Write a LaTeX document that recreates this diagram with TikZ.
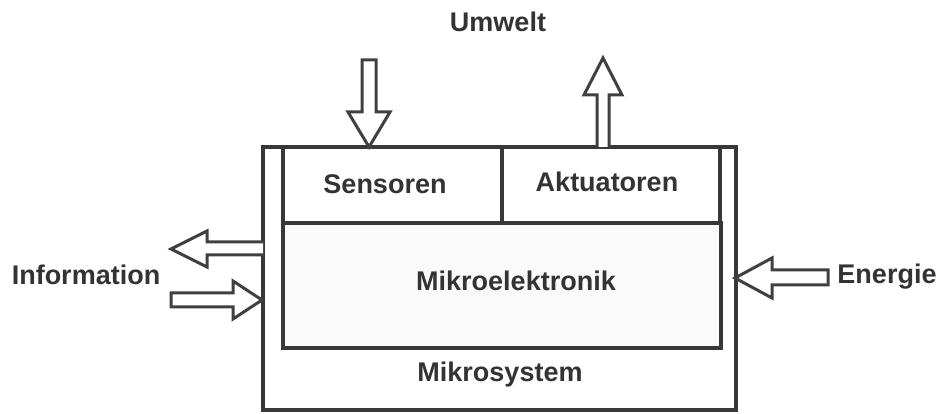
\documentclass[tikz,border=0pt]{standalone}
\usepackage{fontspec}
\setmainfont{Liberation Sans}
\begin{document}
\begin{tikzpicture}[x=1pt,y=-1pt,
  ink/.style={draw=black!78, line width=3.4pt},
  fatarrow/.style={draw=black!75, line width=3pt, fill=white, line join=miter},
  lbl/.style={text=black!80, font=\fontsize{27}{30}\selectfont\bfseries, inner sep=0pt}]
\useasboundingbox (0,0) rectangle (938,414);

% outer frame of the microsystem
\draw[ink] (263,147) rectangle (736,410);
% sensor / actuator row
\draw[ink] (283,147) rectangle (720,223);
\draw[ink] (502,147) -- (502,223);
% microelectronics block
\draw[ink, fill=black!2] (283,223) rectangle (721,348);

% labels
\node[lbl] (umwelt) at (498,22) {Umwelt};
\node[lbl] (sens) at (385,184) {Sensoren};
\node[lbl] (akt) at (607,182) {Aktuatoren};
\node[lbl] (mikel) at (516,281) {Mikroelektronik};
\node[lbl] (mikro) at (500,375) {Mikrosystem};
\node[lbl] (info) at (86,275) {Information};
\node[lbl] (energie) at (887,277) {Energie};

% input from the environment (down)
\draw[fatarrow] (362,60) -- (376,60) -- (376,112) -- (390,112) -- (369,147)
  -- (348,112) -- (362,112) -- cycle;
% output to the environment (up)
\draw[fatarrow] (597,147) -- (597,95) -- (584,95) -- (603,58) -- (622,95)
  -- (609,95) -- (609,147);
% information out (left)
\draw[fatarrow] (263,242) -- (207,242) -- (207,231) -- (171,249) -- (207,267)
  -- (207,255) -- (263,255);
% information in (right)
\draw[fatarrow] (171,293) -- (233,293) -- (233,281) -- (262,300) -- (233,319)
  -- (233,307) -- (171,307) -- cycle;
% energy in (left)
\draw[fatarrow] (828,270) -- (772,270) -- (772,258) -- (735,278) -- (772,298)
  -- (772,285) -- (828,285) -- cycle;
\end{tikzpicture}
\end{document}
